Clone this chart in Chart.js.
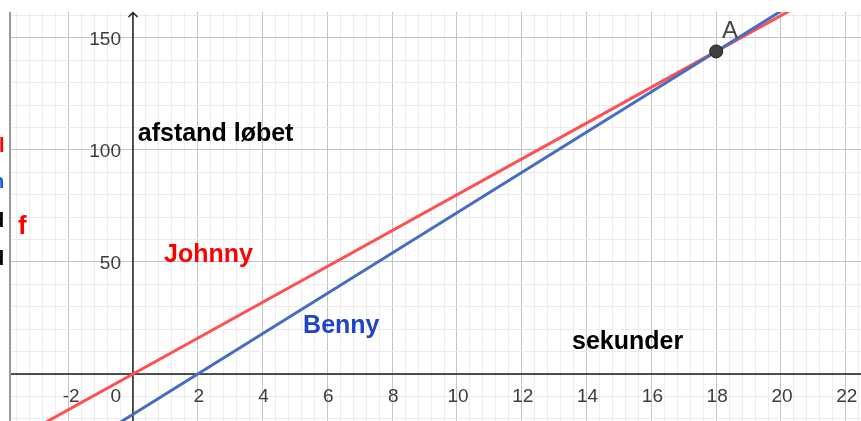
<!DOCTYPE html>
<html>
<head>
<meta charset="utf-8">
<script src="https://cdn.jsdelivr.net/npm/chart.js@4/dist/chart.umd.min.js"></script>
<style>
  body { margin: 0; background: #ffffff; }
</style>
</head>
<body>
<canvas id="myChart" width="861" height="421"></canvas>
<script>
// the two runners (seconds, metres)
var johnnyX = [-4, 0, 18, 23];
var johnnyY = [-32, 0, 144, 184];
var bennyX = [-4, 2, 18, 23];
var bennyY = [-54, 0, 144, 189];
var pointAX = [18];
var pointAY = [144];

// tick labels
var xTickLabels = [-2, 0, 2, 4, 6, 8, 10, 12, 14, 16, 18, 20, 22];
var yTickLabels = [50, 100, 150];

// text on the graph (x, y in graph units)
var textNames = ['afstand løbet', 'Johnny', 'Benny', 'sekunder', 'A', 'f'];
var textX = [0.15, 0.96, 5.25, 13.55, 18.18, -3.55];
var textY = [103.8, 49.9, 18.3, 11.1, 150.2, 62.4];

var FONT = '"Liberation Sans", Arial, sans-serif';
var textStyle = [
  {color: '#000000', font: 'bold 25px ' + FONT},
  {color: '#ff0000', font: 'bold 25px ' + FONT},
  {color: '#1f44c8', font: 'bold 25px ' + FONT},
  {color: '#000000', font: 'bold 25px ' + FONT},
  {color: '#444444', font: '24px ' + FONT},
  {color: '#ff0000', font: 'bold 26px ' + FONT}
];

function toPoints(xs, ys) {
  var out = [];
  for (var i = 0; i < xs.length; i++) out.push({x: xs[i], y: ys[i]});
  return out;
}

function isMultiple(v, step) {
  var r = v / step;
  return Math.abs(r - Math.round(r)) < 1e-6;
}

var geoPlugin = {
  id: 'geo',
  beforeDatasetsDraw: function(chart) {
    var ctx = chart.ctx, area = chart.chartArea;
    var xs = chart.scales.x, ys = chart.scales.y;
    var x0 = xs.getPixelForValue(0), y0 = ys.getPixelForValue(0);
    ctx.save();

    // frame of the graphics view on the left
    ctx.strokeStyle = '#9a9a9a';
    ctx.lineWidth = 2;
    ctx.beginPath();
    ctx.moveTo(area.left - 1, area.top);
    ctx.lineTo(area.left - 1, area.bottom);
    ctx.stroke();

    // axes
    ctx.strokeStyle = '#1e1e1e';
    ctx.lineWidth = 1.5;
    ctx.beginPath();
    ctx.moveTo(area.left, y0);
    ctx.lineTo(area.right, y0);
    ctx.moveTo(x0, area.bottom);
    ctx.lineTo(x0, area.top);
    // arrow on the y axis
    ctx.moveTo(x0 - 4.5, area.top + 5);
    ctx.lineTo(x0, area.top + 0.5);
    ctx.lineTo(x0 + 4.5, area.top + 5);
    ctx.stroke();

    // tick labels
    ctx.fillStyle = '#3c3c3c';
    ctx.font = '19px ' + FONT;
    ctx.textBaseline = 'alphabetic';
    ctx.textAlign = 'right';
    yTickLabels.forEach(function(v) {
      ctx.fillText(String(v), x0 - 12, ys.getPixelForValue(v) + 7);
    });
    xTickLabels.forEach(function(v) {
      var px = xs.getPixelForValue(v);
      if (v === 0) {
        ctx.textAlign = 'right';
        ctx.fillText('0', x0 - 12, y0 + 28);
      } else {
        ctx.textAlign = 'center';
        ctx.fillText(String(v), px + (v < 0 ? 3 : 1), y0 + 28);
      }
    });

    // bits of the algebra view cut off at the left edge
    ctx.textAlign = 'left';
    ctx.font = 'bold 20px ' + FONT;
    ctx.fillStyle = '#ff0000';
    ctx.fillText('l', -1, 152);
    ctx.fillStyle = '#1560d8';
    ctx.fillText('h', -8, 188);
    ctx.fillStyle = '#000000';
    ctx.fillText('d', -8, 227);
    ctx.fillText('d', -8, 265);
    ctx.restore();
  },
  afterDatasetsDraw: function(chart) {
    var ctx = chart.ctx;
    var xs = chart.scales.x, ys = chart.scales.y;
    ctx.save();
    ctx.textAlign = 'left';
    ctx.textBaseline = 'alphabetic';
    for (var i = 0; i < textNames.length; i++) {
      ctx.font = textStyle[i].font;
      ctx.fillStyle = textStyle[i].color;
      ctx.fillText(textNames[i], xs.getPixelForValue(textX[i]), ys.getPixelForValue(textY[i]));
    }
    ctx.restore();
  }
};

var ctx = document.getElementById('myChart').getContext('2d');
var chart = new Chart(ctx, {
  type: 'scatter',
  data: {
    datasets: [
      {
        label: 'A',
        data: toPoints(pointAX, pointAY),
        pointRadius: 6.5,
        backgroundColor: '#404040',
        borderColor: '#1a1a1a',
        borderWidth: 1,
        order: 0
      },
      {
        label: 'Benny',
        data: toPoints(bennyX, bennyY),
        showLine: true,
        borderColor: '#466cc4',
        borderWidth: 3,
        pointRadius: 0,
        tension: 0,
        order: 1
      },
      {
        label: 'Johnny',
        data: toPoints(johnnyX, johnnyY),
        showLine: true,
        borderColor: '#ff4f4f',
        borderWidth: 3,
        pointRadius: 0,
        tension: 0,
        order: 2
      }
    ]
  },
  options: {
    responsive: false,
    animation: false,
    layout: { autoPadding: false, padding: { left: 11, top: 12, right: 0, bottom: 0 } },
    plugins: { legend: { display: false }, tooltip: { enabled: false } },
    scales: {
      x: {
        type: 'linear',
        min: -3.765,
        max: 22.47,
        afterBuildTicks: function(scale) {
          var t = [];
          for (var k = -9; k <= 56; k++) t.push({value: k * 0.4});
          scale.ticks = t;
        },
        ticks: { display: false },
        border: { display: false },
        grid: {
          drawTicks: false,
          lineWidth: 1,
          color: function(c) {
            return isMultiple(c.tick.value, 2) ? '#c4c4c4' : '#ececec';
          }
        }
      },
      y: {
        type: 'linear',
        min: -20.98,
        max: 161.6,
        afterBuildTicks: function(scale) {
          var t = [];
          for (var k = -2; k <= 16; k++) t.push({value: k * 10});
          scale.ticks = t;
        },
        ticks: { display: false },
        border: { display: false },
        grid: {
          drawTicks: false,
          lineWidth: 1,
          color: function(c) {
            return isMultiple(c.tick.value, 50) ? '#c4c4c4' : '#ececec';
          }
        }
      }
    }
  },
  plugins: [geoPlugin]
});
</script>
</body>
</html>
